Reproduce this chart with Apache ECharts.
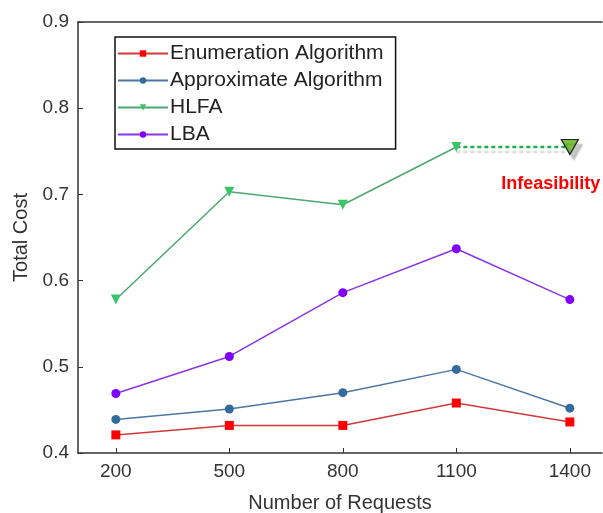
<!DOCTYPE html>
<html>
<head>
<meta charset="utf-8">
<script src="https://cdn.jsdelivr.net/npm/echarts@6/dist/echarts.min.js"></script>
<style>
  html, body { margin: 0; padding: 0; background: #fff; }
  #chart { width: 603px; height: 513px; }
</style>
</head>
<body>
<div id="chart"></div>
<script>
// values
const requests = [200, 500, 800, 1100, 1400]
const enumeration = [0.421, 0.432, 0.432, 0.458, 0.436]
const approximate = [0.439, 0.451, 0.470, 0.497, 0.452]
const hlfa = [0.578, 0.703, 0.688, 0.755]
const hlfaInfeasible = [0.755, 0.755] // at 1100 and 1400
const lba = [0.469, 0.512, 0.586, 0.637, 0.578]

const font = 'Arial, "Liberation Sans", sans-serif'

function pairs(xs, ys) {
  return ys.map((v, i) => [xs[i], v])
}

const chart = echarts.init(document.getElementById('chart'))

const infeasibleData = pairs(requests.slice(3), hlfaInfeasible)

chart.setOption({
  animation: false,
  grid: {
    left: 78,
    top: 22,
    bottom: 60,
    right: 1,
    containLabel: false,
    outerBoundsMode: 'none'
  },
  legend: {
    orient: 'vertical',
    left: 115,
    top: 37,
    width: 282,
    padding: [6, 12, 4, 2],
    itemGap: 6,
    itemWidth: 50,
    itemHeight: 8,
    borderColor: '#111',
    borderWidth: 1.5,
    data: ['Enumeration Algorithm', 'Approximate Algorithm', 'HLFA', 'LBA'],
    textStyle: { fontFamily: font, fontSize: 21, color: '#222', padding: [0, 0, 0, -3] }
  },
  xAxis: [{
    type: 'value',
    min: 100,
    max: 1485,
    name: 'Number of Requests',
    nameLocation: 'middle',
    nameGap: 40,
    nameTextStyle: { fontFamily: font, fontSize: 20, color: '#333' },
    axisLine: { lineStyle: { color: '#333', width: 1.5 } },
    axisTick: { inside: true, length: 5, customValues: requests, lineStyle: { color: '#333' } },
    axisLabel: {
      customValues: requests, fontFamily: font, fontSize: 19, color: '#333', margin: 9,
      formatter: v => String(v)
    },
    splitLine: { show: false }
  }, {
    type: 'value',
    position: 'top',
    min: 100,
    max: 1485,
    axisLine: { show: true, lineStyle: { color: '#333', width: 1.5 } },
    axisTick: { show: false },
    axisLabel: { show: false },
    splitLine: { show: false }
  }],
  yAxis: {
    type: 'value',
    min: 0.4,
    max: 0.9,
    interval: 0.1,
    name: 'Total Cost',
    nameLocation: 'middle',
    nameGap: 46,
    nameTextStyle: { fontFamily: font, fontSize: 20, color: '#333' },
    axisLine: { show: true, lineStyle: { color: '#333', width: 1.5 } },
    axisTick: { show: true, inside: true, length: 5, lineStyle: { color: '#333' } },
    axisLabel: {
      fontFamily: font, fontSize: 19, color: '#333', margin: 9,
      formatter: v => v.toFixed(1)
    },
    splitLine: { show: false }
  },
  series: [
    {
      name: 'Enumeration Algorithm',
      type: 'line',
      data: pairs(requests, enumeration),
      symbol: 'rect',
      symbolSize: 9,
      itemStyle: { color: '#ff0000' },
      lineStyle: { color: '#d03a3a', width: 1.5 }
    },
    {
      name: 'Approximate Algorithm',
      type: 'line',
      data: pairs(requests, approximate),
      symbol: 'circle',
      symbolSize: 9,
      itemStyle: { color: '#336b9e' },
      lineStyle: { color: '#4b76a3', width: 1.5 }
    },
    {
      name: 'HLFA',
      type: 'line',
      data: pairs(requests, hlfa),
      symbol: 'triangle',
      symbolRotate: 180,
      symbolSize: 10,
      itemStyle: { color: '#3cc46a' },
      lineStyle: { color: '#4aa870', width: 1.5 },
      z: 4
    },
    {
      name: 'HLFA infeasible',
      type: 'line',
      data: [
        { value: infeasibleData[0], symbol: 'none' },
        {
          value: infeasibleData[1],
          symbol: 'triangle',
          symbolRotate: 180,
          symbolSize: [17, 15],
          itemStyle: {
            color: '#7cc242',
            borderColor: '#222',
            borderWidth: 1.2,
            shadowColor: 'rgba(0,0,0,0.22)',
            shadowOffsetX: 4,
            shadowOffsetY: 5,
            shadowBlur: 2
          },
          label: {
            show: true,
            formatter: 'Infeasibility',
            position: 'bottom',
            distance: 20,
            offset: [-19, 0],
            color: '#ff0000',
            fontFamily: font,
            fontWeight: 'bold',
            fontSize: 18
          }
        }
      ],
      showAllSymbol: true,
      itemStyle: { color: '#1fb04a' },
      lineStyle: {
        color: '#1fb04a',
        width: 2.5,
        type: [4, 3],
        shadowColor: 'rgba(0,0,0,0.15)',
        shadowOffsetY: 5,
        shadowBlur: 1
      },
      z: 3
    },
    {
      name: 'LBA',
      type: 'line',
      data: pairs(requests, lba),
      symbol: 'circle',
      symbolSize: 9,
      itemStyle: { color: '#8000ff' },
      lineStyle: { color: '#8c33e6', width: 1.5 }
    }
  ]
})
</script>
</body>
</html>
